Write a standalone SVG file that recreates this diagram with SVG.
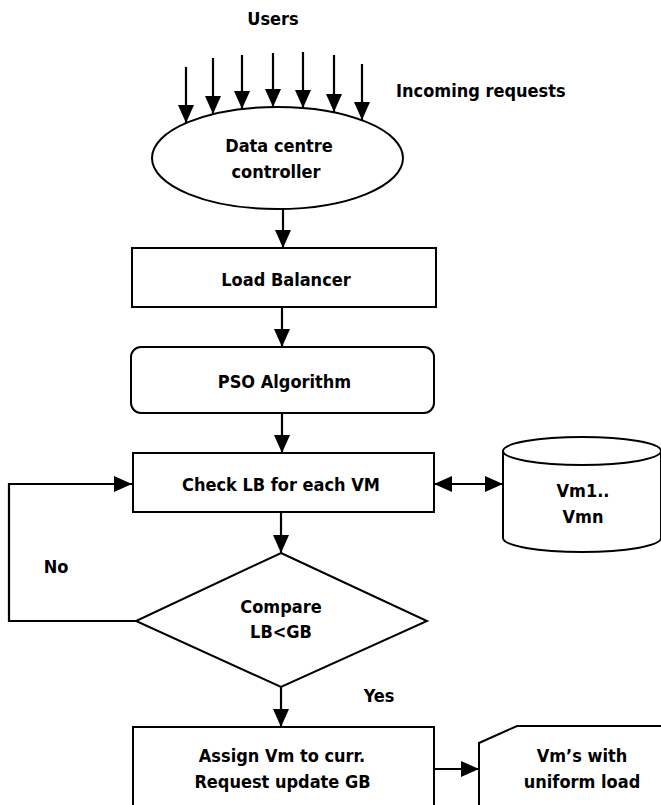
<svg xmlns="http://www.w3.org/2000/svg" width="661" height="805" viewBox="0 0 661 805">
<style>
.s{fill:#fff;stroke:#000;stroke-width:2}
.c{fill:none;stroke:#000;stroke-width:2.2}
text{font-family:"DejaVu Sans Condensed","DejaVu Sans",sans-serif;font-weight:bold;font-size:18px;fill:#000;text-anchor:middle}
</style>
<defs>
<marker id="ah" viewBox="0 0 18 16" refX="18" refY="8" markerWidth="18" markerHeight="16" markerUnits="userSpaceOnUse" orient="auto-start-reverse">
<path d="M0,0 L18,8 L0,16 z" fill="#000"/>
</marker>
</defs>
<rect width="661" height="805" fill="#fff"/>
<g id="users"><text x="273" y="25">Users</text></g>
<g id="incoming"><text x="396" y="97" style="text-anchor:start">Incoming requests</text></g>
<g id="connectors">
<line class="c" x1="186" y1="67" x2="186" y2="123" marker-end="url(#ah)"/>
<line class="c" x1="213" y1="58" x2="213" y2="114" marker-end="url(#ah)"/>
<line class="c" x1="242" y1="55" x2="242" y2="109" marker-end="url(#ah)"/>
<line class="c" x1="273" y1="53" x2="273" y2="107" marker-end="url(#ah)"/>
<line class="c" x1="303" y1="52" x2="303" y2="108" marker-end="url(#ah)"/>
<line class="c" x1="334" y1="55" x2="334" y2="112" marker-end="url(#ah)"/>
<line class="c" x1="362" y1="64" x2="362" y2="120" marker-end="url(#ah)"/>
<line class="c" x1="283" y1="209" x2="283" y2="248" marker-end="url(#ah)"/>
<line class="c" x1="282" y1="307" x2="282" y2="347" marker-end="url(#ah)"/>
<line class="c" x1="282" y1="413" x2="282" y2="453" marker-end="url(#ah)"/>
<line class="c" x1="281" y1="512" x2="281" y2="553" marker-end="url(#ah)"/>
<line class="c" x1="281" y1="687" x2="281" y2="727" marker-end="url(#ah)"/>
<path class="c" d="M136,621 L9,621 L9,484 L132,484" marker-end="url(#ah)"/>
<line class="c" x1="434" y1="484" x2="503" y2="484" marker-start="url(#ah)" marker-end="url(#ah)"/>
<line class="c" x1="434" y1="769" x2="479" y2="769" marker-end="url(#ah)"/>
</g>
<g id="controller">
<ellipse class="s" cx="277.5" cy="158" rx="125.5" ry="51"/>
<text x="279" y="152">Data centre</text>
<text x="276" y="178">controller</text>
</g>
<g id="loadbalancer">
<rect class="s" x="132" y="248" width="304" height="59"/>
<text x="286" y="286">Load Balancer</text>
</g>
<g id="pso">
<rect class="s" x="131" y="347" width="303" height="66" rx="10"/>
<text x="284.5" y="388">PSO Algorithm</text>
</g>
<g id="check">
<rect class="s" x="133" y="453" width="301" height="59"/>
<text x="281" y="491">Check LB for each VM</text>
</g>
<g id="vms">
<path class="s" d="M503,451 L503,538 A79,14 0 0 0 661,538 L661,451"/>
<ellipse class="s" cx="582" cy="451" rx="79" ry="14"/>
<text x="583" y="497">Vm1..</text>
<text x="583" y="523">Vmn</text>
</g>
<g id="no"><text x="56" y="573">No</text></g>
<g id="compare">
<polygon class="s" points="281,553 427,621 281,687 136,621"/>
<text x="281" y="613">Compare</text>
<text x="281" y="638">LB&lt;GB</text>
</g>
<g id="yes"><text x="379" y="702">Yes</text></g>
<g id="assign">
<rect class="s" x="133" y="727" width="301" height="95"/>
<text x="282" y="762">Assign Vm to curr.</text>
<text x="282.5" y="788">Request update GB</text>
</g>
<g id="result">
<path class="s" d="M479,815 L479,743 L517,726 L670,726 L670,815 z"/>
<text x="582" y="762">Vm’s with</text>
<text x="582" y="788">uniform load</text>
</g>
</svg>
